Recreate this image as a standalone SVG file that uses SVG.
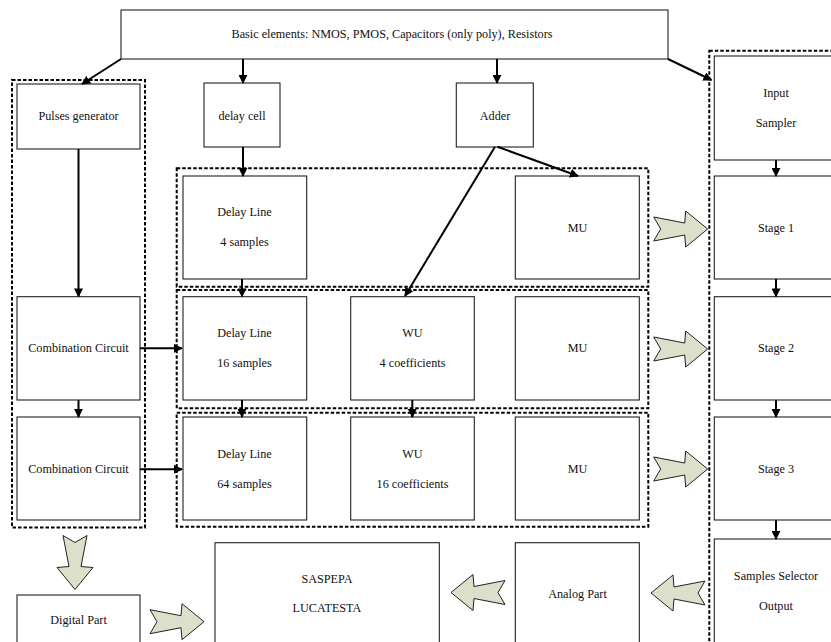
<svg xmlns="http://www.w3.org/2000/svg" width="831" height="642" viewBox="0 0 831 642">
<style>
.box{fill:#fff;stroke:#222;stroke-width:1.1}
.grp{fill:none;stroke:#000;stroke-width:2;stroke-dasharray:3.5 2}
.t{font-family:"Liberation Serif","Times New Roman",serif;font-size:12.2px;fill:#111;text-anchor:middle}
.c{stroke:#000;stroke-width:2;fill:none;marker-end:url(#ah)}
.blk{fill:#dcdfca;stroke:#222;stroke-width:1}
</style>
<defs>
<marker id="ah" viewBox="0 0 10 10" refX="9" refY="5" markerWidth="9" markerHeight="9" markerUnits="userSpaceOnUse" orient="auto"><path d="M0,0 L10,5 L0,10 z" fill="#000"/></marker>
<path id="barrow" d="M0,0 L-22,-18 L-23,-6 L-54,-12 L-47,0 L-54,12 L-23,6 L-22,18 Z"/>
</defs>
<rect width="831" height="642" fill="#fff"/>

<g id="groups">
<rect class="grp" x="12" y="80" width="133" height="447.5"/>
<rect class="grp" x="176.7" y="168.3" width="471.6" height="118.4"/>
<rect class="grp" x="176.7" y="290" width="471.6" height="118.3"/>
<rect class="grp" x="176.7" y="412.7" width="471.6" height="114"/>
<rect class="grp" x="709.3" y="50.7" width="140" height="620"/>
</g>

<g id="top"><rect class="box" x="121" y="10" width="547" height="49"/><text class="t" x="392" y="38">Basic elements: NMOS, PMOS, Capacitors (only poly), Resistors</text></g>
<g id="pulses"><rect class="box" x="17" y="84" width="123" height="65"/><text class="t" x="78.5" y="120">Pulses generator</text></g>
<g id="delaycell"><rect class="box" x="204" y="83" width="76" height="64"/><text class="t" x="242" y="120">delay cell</text></g>
<g id="adder"><rect class="box" x="456.3" y="83" width="77" height="64"/><text class="t" x="495" y="120">Adder</text></g>
<g id="input"><rect class="box" x="714.3" y="56" width="130" height="104"/><text class="t" x="776" y="97">Input</text><text class="t" x="776" y="127">Sampler</text></g>

<g id="dl4"><rect class="box" x="183" y="176" width="123.7" height="103"/><text class="t" x="244.5" y="216">Delay Line</text><text class="t" x="244.5" y="246">4 samples</text></g>
<g id="mu1"><rect class="box" x="515.3" y="176" width="124" height="103"/><text class="t" x="577.5" y="232">MU</text></g>
<g id="stage1"><rect class="box" x="714.3" y="176" width="130" height="103"/><text class="t" x="776" y="232">Stage 1</text></g>

<g id="comb1"><rect class="box" x="17" y="296.7" width="123" height="103.3"/><text class="t" x="78.5" y="352">Combination Circuit</text></g>
<g id="dl16"><rect class="box" x="183" y="296.7" width="123.7" height="103.3"/><text class="t" x="244.5" y="336.5">Delay Line</text><text class="t" x="244.5" y="366.5">16 samples</text></g>
<g id="wu4"><rect class="box" x="350.7" y="296.7" width="123.6" height="103.3"/><text class="t" x="412.5" y="336.5">WU</text><text class="t" x="412.5" y="366.5">4 coefficients</text></g>
<g id="mu2"><rect class="box" x="515.3" y="296.7" width="124" height="103.3"/><text class="t" x="577.5" y="352">MU</text></g>
<g id="stage2"><rect class="box" x="714.3" y="296.7" width="130" height="103.3"/><text class="t" x="776" y="352">Stage 2</text></g>

<g id="comb2"><rect class="box" x="17" y="417" width="123" height="103"/><text class="t" x="78.5" y="473">Combination Circuit</text></g>
<g id="dl64"><rect class="box" x="183" y="417" width="123.7" height="103"/><text class="t" x="244.5" y="458">Delay Line</text><text class="t" x="244.5" y="488">64 samples</text></g>
<g id="wu16"><rect class="box" x="350.7" y="417" width="123.6" height="103"/><text class="t" x="412.5" y="458">WU</text><text class="t" x="412.5" y="488">16 coefficients</text></g>
<g id="mu3"><rect class="box" x="515.3" y="417" width="124" height="103"/><text class="t" x="577.5" y="473">MU</text></g>
<g id="stage3"><rect class="box" x="714.3" y="417" width="130" height="103"/><text class="t" x="776" y="473">Stage 3</text></g>

<g id="digital"><rect class="box" x="17" y="595" width="123" height="60"/><text class="t" x="78.5" y="624">Digital Part</text></g>
<g id="saspepa"><rect class="box" x="215" y="542.7" width="224.3" height="110"/><text class="t" x="327" y="583">SASPEPA</text><text class="t" x="327" y="611.5">LUCATESTA</text></g>
<g id="analog"><rect class="box" x="515.3" y="542.7" width="124" height="110"/><text class="t" x="577.5" y="598">Analog Part</text></g>
<g id="selector"><rect class="box" x="714.3" y="539" width="130" height="110"/><text class="t" x="776" y="580">Samples Selector</text><text class="t" x="776" y="610">Output</text></g>

<g id="connectors">
<line class="c" x1="121" y1="59" x2="82" y2="84"/>
<line class="c" x1="243" y1="59" x2="243" y2="83"/>
<line class="c" x1="497" y1="59" x2="497" y2="83"/>
<line class="c" x1="668" y1="59" x2="711.5" y2="80"/>
<line class="c" x1="78.5" y1="149" x2="78.5" y2="296.5"/>
<line class="c" x1="78.5" y1="400" x2="78.5" y2="417"/>
<line class="c" x1="243" y1="147" x2="243" y2="176"/>
<line class="c" x1="495" y1="146.7" x2="405" y2="296"/>
<line class="c" x1="497.3" y1="146.7" x2="578" y2="176"/>
<line class="c" x1="242" y1="279" x2="242" y2="296.5"/>
<line class="c" x1="242" y1="400" x2="242" y2="417"/>
<line class="c" x1="412.3" y1="400" x2="412.3" y2="417"/>
<line class="c" x1="140" y1="348.3" x2="182" y2="348.3"/>
<line class="c" x1="140" y1="469.3" x2="182" y2="469.3"/>
<line class="c" x1="776" y1="160" x2="776" y2="176"/>
<line class="c" x1="776" y1="279" x2="776" y2="296.5"/>
<line class="c" x1="776" y1="400" x2="776" y2="417"/>
<line class="c" x1="776" y1="520" x2="776" y2="539"/>
<use href="#barrow" class="blk" transform="translate(707.7,229)"/>
<use href="#barrow" class="blk" transform="translate(707.7,349)"/>
<use href="#barrow" class="blk" transform="translate(707.7,469)"/>
<use href="#barrow" class="blk" transform="translate(204,621.7)"/>
<use href="#barrow" class="blk" transform="translate(75,589.5) rotate(90)"/>
<use href="#barrow" class="blk" transform="translate(451,592.5) rotate(180)"/>
<use href="#barrow" class="blk" transform="translate(651,593) rotate(180)"/>
</g>
</svg>
